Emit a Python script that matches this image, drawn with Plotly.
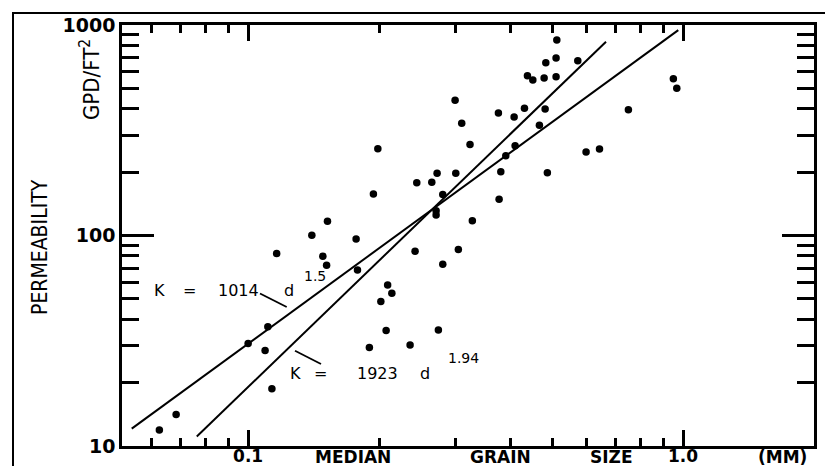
import plotly.graph_objects as go

# ---------------- data ----------------
grain_mm = [0.0625, 0.0683, 0.100, 0.1094, 0.1110, 0.1134, 0.1163, 0.1401, 0.1485, 0.1515,
            0.1522, 0.1771, 0.1784, 0.1900, 0.1941, 0.1987, 0.2019, 0.2076, 0.2093, 0.2140,
            0.2357, 0.2420, 0.2442, 0.2644, 0.2705, 0.2705, 0.2738, 0.2719, 0.2802, 0.2802,
            0.2991, 0.3002, 0.3043, 0.3098, 0.3237, 0.3277, 0.3762, 0.3810, 0.3776, 0.3912,
            0.4088, 0.4110, 0.4318, 0.4387, 0.4514, 0.4674, 0.4792, 0.4817, 0.4835, 0.4875,
            0.5105, 0.5105, 0.5125, 0.5727, 0.5984, 0.6424, 0.7486, 0.9499, 0.9672]
permeability = [11.9, 14.1, 30.7, 28.4, 36.9, 18.7, 82.1, 100.2, 79.6, 72.2,
                116.8, 96.2, 68.6, 29.4, 157.4, 258.4, 48.6, 35.4, 58.2, 53.1,
                30.2, 84.1, 178.1, 178.9, 131.2, 125.2, 35.6, 197.5, 156.6, 73.0,
                438.8, 197.5, 85.8, 341.2, 270.5, 117.6, 381.9, 201.0, 148.6, 239.4,
                365.6, 267.0, 402.1, 574.3, 548.0, 333.8, 560.2, 399.0, 662.2, 198.8,
                697.1, 568.1, 848.8, 676.8, 249.3, 257.5, 395.9, 555.8, 500.6]

# fitted lines (end points)
fit_15_d = [0.054, 0.975]
fit_15_k = [12.1, 946.0]
fit_194_d = [0.0762, 0.665]
fit_194_k = [11.1, 833.0]

x_tick_vals = [0.1, 1.0]
x_tick_text = ["0.1", "1.0"]
x_minor_vals = [0.06, 0.07, 0.08, 0.09, 0.2, 0.3, 0.4, 0.5, 0.6, 0.7, 0.8, 0.9]
y_tick_vals = [10, 100, 1000]
y_tick_text = ["10", "100", "1000"]
y_minor_vals = [20, 30, 40, 50, 60, 70, 80, 90, 200, 300, 400, 500, 600, 700, 800, 900]

# ---------------- layout helpers ----------------
# the page body has an 8px margin, so the figure is drawn 8px in from the window corner
OFF = 8
W, H = 833 - OFF, 466 - OFF
PL, PR, PT, PB = 122, 814, 25, 446          # plot area in window pixels
L, R, T, B = PL - OFF, (833 - PR), PT - OFF, (466 - PB)
PW, PH = PR - PL, PB - PT


def px(x):
    return (x - PL) / PW


def py(y):
    return (PB - y) / PH


BLACK = "black"
wide = "DejaVu Sans, Verdana, Arial, sans-serif"
narrow = "Liberation Sans Narrow, DejaVu Sans Condensed, Arial Narrow, Liberation Sans, sans-serif"

fig = go.Figure()

fig.add_trace(go.Scatter(x=fit_15_d, y=fit_15_k, mode="lines",
                         line=dict(color=BLACK, width=2), showlegend=False, hoverinfo="skip"))
fig.add_trace(go.Scatter(x=fit_194_d, y=fit_194_k, mode="lines",
                         line=dict(color=BLACK, width=2), showlegend=False, hoverinfo="skip"))
fig.add_trace(go.Scatter(x=grain_mm, y=permeability, mode="markers",
                         marker=dict(color=BLACK, size=7.5, line=dict(width=0)),
                         showlegend=False))

axis_common = dict(
    showline=True, linecolor=BLACK, linewidth=2.5, mirror="ticks",
    ticks="inside", tickcolor=BLACK, tickwidth=2.5,
    showgrid=False, zeroline=False,
)

fig.update_xaxes(type="log", range=[-1.29, 0.301],
                 tickmode="array", tickvals=x_tick_vals, ticktext=x_tick_text, ticklen=16,
                 ticklabelstandoff=-7,
                 tickfont=dict(family=wide, size=17, color=BLACK, weight="bold"),
                 minor=dict(tickmode="array", tickvals=x_minor_vals, ticks="inside", ticklen=8,
                            tickwidth=2.5, tickcolor=BLACK, showgrid=False),
                 **axis_common)
fig.update_yaxes(type="log", range=[1, 3],
                 tickmode="array", tickvals=y_tick_vals, ticktext=y_tick_text, ticklen=32,
                 tickfont=dict(family=wide, size=19, color=BLACK, weight="bold"),
                 minor=dict(tickmode="array", tickvals=y_minor_vals, ticks="inside", ticklen=17,
                            tickwidth=2.5, tickcolor=BLACK, showgrid=False),
                 **axis_common)

annotations = []


def txt(text, x, y, size=18, family=wide, angle=0, weight="normal"):
    annotations.append(dict(text=text, x=px(x), y=py(y), xref="paper", yref="paper",
                            showarrow=False, xanchor="center", yanchor="middle",
                            textangle=angle,
                            font=dict(family=family, size=size, color=BLACK, weight=weight)))


# axis titles
txt("MEDIAN", 353, 457, size=17, weight="bold")
txt("GRAIN", 500, 457, size=17, weight="bold")
txt("SIZE", 611, 457, size=17, weight="bold")
txt("(MM)", 782, 457, size=17, weight="bold")
txt("PERMEABILITY", 40, 247, size=21, family=narrow, angle=-90)
txt("GPD/FT<sup>2</sup>", 90, 80, size=22, family=narrow, angle=-90)

# equation labels
txt("K", 159.5, 290, size=16)
txt("=", 189.5, 290, size=16)
txt("1014", 238, 290, size=16)
txt("d", 289, 290, size=16)
txt("1.5", 315, 276, size=14)

txt("K", 295, 373, size=16)
txt("=", 320, 373, size=16)
txt("1923", 377.5, 373, size=16)
txt("d", 425, 373, size=16)
txt("1.94", 463, 358, size=14)

shapes = [
    # outer frame of the scanned figure
    dict(type="rect", xref="paper", yref="paper", x0=px(13), y0=py(520), x1=px(900), y1=py(13),
         line=dict(color=BLACK, width=2), layer="below"),
    # leader lines from labels to the fitted lines
    dict(type="line", xref="paper", yref="paper", x0=px(260), y0=py(293.5), x1=px(286.7), y1=py(307),
         line=dict(color=BLACK, width=1.8)),
    dict(type="line", xref="paper", yref="paper", x0=px(295), y0=py(350.7), x1=px(321), y1=py(364),
         line=dict(color=BLACK, width=1.8)),
]

fig.update_layout(
    width=W, height=H,
    margin=dict(l=L, r=R, t=T, b=B, autoexpand=False),
    paper_bgcolor="white", plot_bgcolor="white",
    annotations=annotations, shapes=shapes,
    showlegend=False,
)

fig.write_html("out.html")
